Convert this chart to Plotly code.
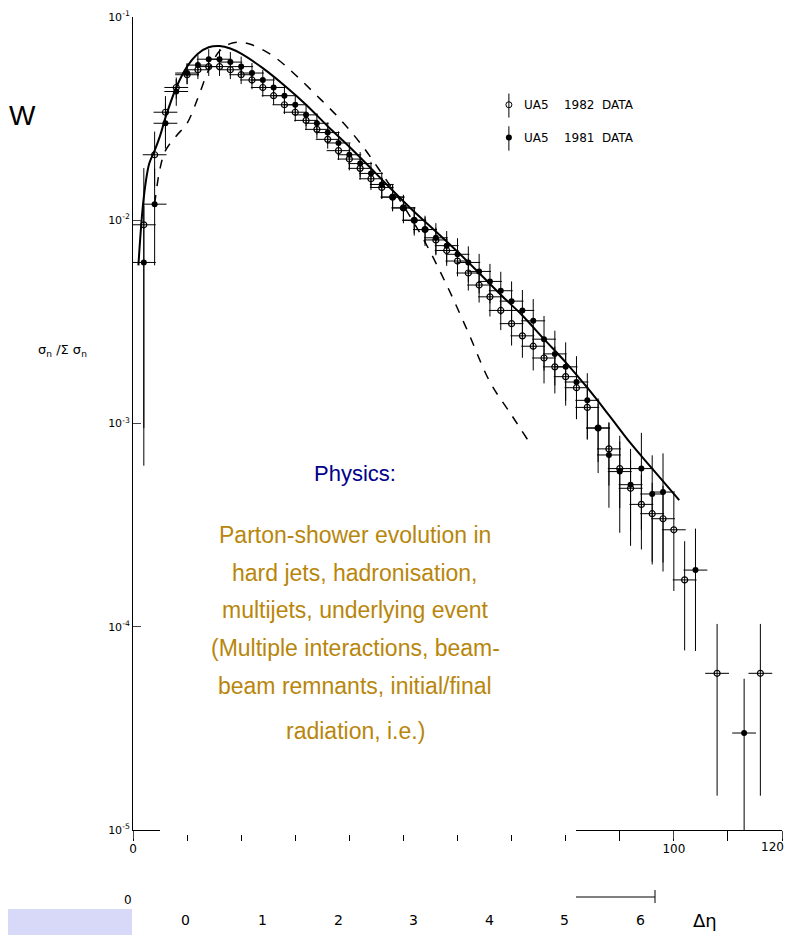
import plotly.graph_objects as go

# UA5 1982 (open circles)
n82 = [2,4,6,8,10,12,14,16,18,20,22,24,26,28,30,32,34,36,38,40,42,44,46,48,50,52,54,56,58,60,62,64,66,68,70,72,74,76,78,80,82,84,86,88,90,92,94,96,98,100,102,108,116]
v82 = [0.0095,0.021,0.034,0.045,0.052,0.055,0.057,0.057,0.055,0.052,0.049,0.045,0.041,0.037,0.034,0.031,0.028,0.025,0.022,0.020,0.018,0.016,0.0145,0.013,0.0115,0.010,0.0090,0.0080,0.0071,0.0063,0.0055,0.0048,0.0042,0.0036,0.0031,0.0027,0.0024,0.0021,0.0019,0.0017,0.0015,0.0012,0.00095,0.00075,0.00060,0.00048,0.00040,0.00036,0.00034,0.00030,0.00017,0.000059,0.000059]
r82 = [0.9,0.3,0.2,0.12,0.1,0.1,0.1,0.1,0.1,0.1,0.1,0.1,0.1,0.1,0.1,0.1,0.1,0.1,0.1,0.12,0.12,0.12,0.12,0.14,0.14,0.14,0.15,0.15,0.16,0.16,0.18,0.18,0.2,0.2,0.22,0.22,0.24,0.25,0.26,0.28,0.3,0.3,0.32,0.34,0.36,0.38,0.4,0.42,0.45,0.5,0.55,0.75,0.75]

# UA5 1981 (filled circles)
n81 = [2,4,6,8,10,12,14,16,18,20,22,24,26,28,30,32,34,36,38,40,42,44,46,48,50,52,54,56,58,60,62,64,66,68,70,72,74,76,78,80,82,84,86,88,90,92,94,96,98,104,113]
v81 = [0.0062,0.012,0.030,0.043,0.053,0.058,0.062,0.062,0.060,0.057,0.053,0.049,0.045,0.041,0.037,0.033,0.030,0.027,0.024,0.021,0.019,0.017,0.015,0.013,0.0115,0.0100,0.0090,0.0082,0.0075,0.0068,0.0062,0.0056,0.0050,0.0045,0.0040,0.0036,0.0032,0.0026,0.0022,0.0019,0.0016,0.0013,0.00095,0.00070,0.00058,0.00050,0.00060,0.00045,0.00046,0.00019,0.00003]
r81 = [0.9,0.5,0.25,0.15,0.12,0.12,0.12,0.12,0.12,0.12,0.12,0.12,0.12,0.12,0.12,0.12,0.12,0.12,0.14,0.14,0.14,0.14,0.15,0.15,0.16,0.16,0.17,0.18,0.18,0.2,0.2,0.22,0.22,0.24,0.25,0.26,0.28,0.3,0.3,0.32,0.34,0.36,0.4,0.45,0.5,0.5,0.5,0.55,0.55,0.6,0.85]

# model curves
ns = [1,2,3,4,5,6,8,10,12,14,16,18,20,24,28,32,36,40,44,48,52,56,60,64,68,72,76,80,84,88,92,96,101]
vs = [0.006,0.013,0.019,0.022,0.026,0.032,0.045,0.057,0.066,0.071,0.072,0.070,0.066,0.056,0.046,0.037,0.029,0.023,0.018,0.014,0.011,0.0088,0.0070,0.0055,0.0043,0.0034,0.0026,0.0020,0.0015,0.0011,0.00080,0.00060,0.00042]
nd = [4,5,6,8,10,12,14,16,18,20,22,26,30,34,38,42,46,50,54,58,62,66,70,73]
vd = [0.012,0.018,0.022,0.026,0.030,0.040,0.055,0.068,0.074,0.075,0.073,0.064,0.052,0.041,0.032,0.024,0.017,0.0118,0.0078,0.0048,0.0028,0.0016,0.0011,0.00083]

# legend marker positions
leg_x = [69.5, 69.5]
leg_y = [0.037, 0.0255]

def errs(v, r):
    return [a*b for a, b in zip(v, r)]

fig = go.Figure()
fig.add_trace(go.Scatter(x=ns, y=vs, mode="lines", line=dict(color="black", width=2), line_shape="spline"))
fig.add_trace(go.Scatter(x=nd, y=vd, mode="lines", line=dict(color="black", width=1.5, dash="dash"), line_shape="spline"))
fig.add_trace(go.Scatter(x=n82, y=v82, mode="markers",
    marker=dict(symbol="circle-open", size=6, color="black", line=dict(width=1.2)),
    error_y=dict(type="data", array=errs(v82, r82), color="black", thickness=1, width=0),
    error_x=dict(type="constant", value=2.2, color="black", thickness=1, width=0)))
fig.add_trace(go.Scatter(x=n81, y=v81, mode="markers",
    marker=dict(symbol="circle", size=6, color="black"),
    error_y=dict(type="data", array=errs(v81, r81), color="black", thickness=1, width=0),
    error_x=dict(type="constant", value=2.2, color="black", thickness=1, width=0)))
fig.add_trace(go.Scatter(x=leg_x[:1], y=leg_y[:1], mode="markers", marker=dict(symbol="circle-open", size=6, color="black"),
    error_y=dict(type="constant", value=0.005, color="black", thickness=1, width=0)))
fig.add_trace(go.Scatter(x=leg_x[1:], y=leg_y[1:], mode="markers", marker=dict(symbol="circle", size=6, color="black"),
    error_y=dict(type="constant", value=0.0035, color="black", thickness=1, width=0)))

def px(x): return (x - 133) / 649
def py(y): return (830 - y) / 813

shapes = [
    dict(type="rect", xref="paper", yref="paper", x0=px(160), x1=px(576), y0=py(835), y1=py(455),
         fillcolor="white", line=dict(width=0), layer="above"),
    dict(type="rect", xref="paper", yref="paper", x0=px(0), x1=px(132), y0=py(935), y1=py(909),
         fillcolor="#d8d8f8", line=dict(width=0), layer="above"),
    dict(type="line", xref="paper", yref="paper", x0=px(576), x1=px(655), y0=py(897), y1=py(897),
         line=dict(color="black", width=1)),
    dict(type="line", xref="paper", yref="paper", x0=px(655), x1=px(655), y0=py(890), y1=py(903),
         line=dict(color="black", width=1)),
]

def A(x, y, text, **kw):
    d = dict(x=px(x), y=py(y), xref="paper", yref="paper", text=text, showarrow=False,
             xanchor="center", yanchor="middle")
    d.update(kw)
    return d

ann = [
    A(522, 105, "UA5    1982  DATA", xanchor="left", font=dict(size=12)),
    A(522, 138, "UA5    1981  DATA", xanchor="left", font=dict(size=12)),
    A(62, 350, "σ<sub>n</sub> /Σ σ<sub>n</sub>", font=dict(size=13)),
    A(22, 115, "W", font=dict(size=28, family="Liberation Sans")),
    A(355, 474, "Physics:", font=dict(size=22, color="#00008B", family="Liberation Sans")),
    A(128, 900, "0", font=dict(size=12)),
    A(705, 920, "Δη", font=dict(size=18)),
    A(786, 838, "120", xanchor="right", yanchor="top", font=dict(size=12)),
]
golden = ["Parton-shower evolution in", "hard jets, hadronisation,", "multijets, underlying event",
          "(Multiple interactions, beam-", "beam remnants, initial/final", "radiation, i.e.)"]
gy = [535, 573, 610, 648, 686, 731]
for t, y in zip(golden, gy):
    ann.append(A(355, y, t, font=dict(size=23, color="#B8860B", family="Liberation Sans")))
for i, x in enumerate([185, 262, 338, 413, 489, 564, 640]):
    ann.append(A(x, 920, str(i), font=dict(size=14)))

fig.update_layout(
    width=786, height=927, showlegend=False, plot_bgcolor="white", paper_bgcolor="white",
    margin=dict(l=125, r=12, t=9, b=105, autoexpand=False), shapes=shapes, annotations=ann,
    font=dict(family="DejaVu Sans", color="black"),
    xaxis=dict(range=[0, 120], tickvals=[0, 100, 120], ticktext=["0", "100", ""], ticks="outside", ticklen=8,
               showgrid=False, zeroline=False, automargin=False, showline=True, linecolor="black",
               minor=dict(ticks="outside", dtick=10, ticklen=10, tickcolor="black"), tickfont=dict(size=12)),
    yaxis=dict(type="log", range=[-5, -1], tickvals=[1e-5, 1e-4, 1e-3, 1e-2, 1e-1],
               ticktext=["10<sup>-5</sup>", "10<sup>-4</sup>", "10<sup>-3</sup>", "10<sup>-2</sup>", "10<sup>-1</sup>"],
               automargin=False, ticks="inside", ticklen=8, showgrid=False, zeroline=False, showline=True,
               linecolor="black", tickfont=dict(size=11)),
)
fig.write_html("out.html")
